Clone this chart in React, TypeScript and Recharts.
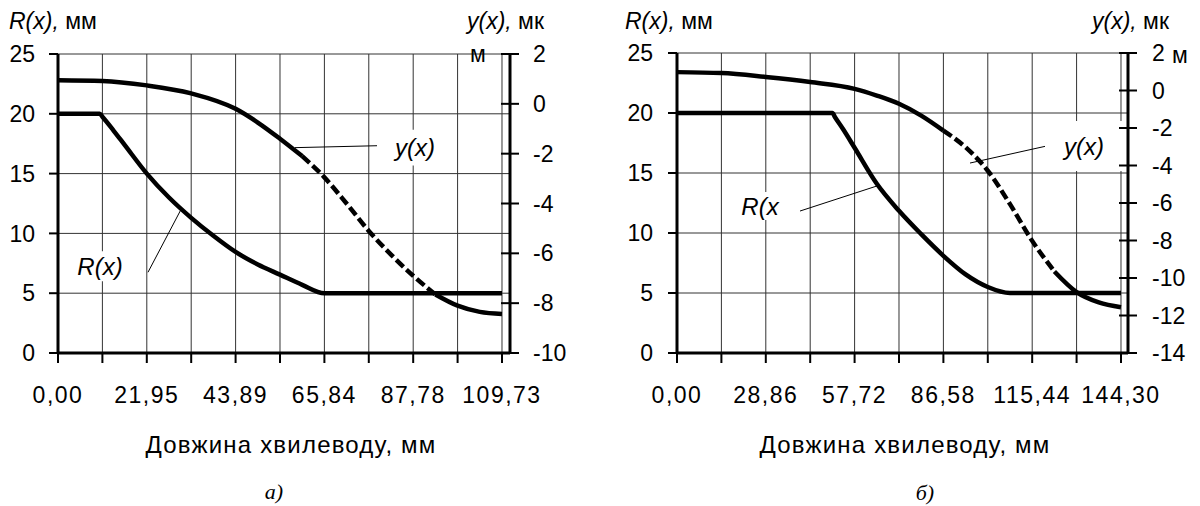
import React from 'react';
import {
  LineChart,
  Line,
  XAxis,
  YAxis,
  CartesianGrid,
  ReferenceArea,
  ReferenceLine,
} from 'recharts';

const FONT = "'Liberation Sans', Arial, sans-serif";

// --- panel а) ---
const aXTicks = [0, 10.973, 21.946, 32.919, 43.892, 54.865, 65.838, 76.811, 87.784, 98.757, 109.73];
const aXLabels = ['0,00', '', '21,95', '', '43,89', '', '65,84', '', '87,78', '', '109,73'];
const aRx = [0, 10.31, 10.97, 13.72, 16.46, 21.95, 27.43, 32.92, 38.4, 43.89, 49.38, 54.86, 60.35, 65.84, 76.81, 87.78, 98.76, 109.73];
const aR = [20, 20, 19.75, 18.6, 17.4, 15.0, 13.0, 11.3, 9.8, 8.45, 7.4, 6.55, 5.7, 5.0, 5, 5, 5, 5];
const aYx = [0, 10.97, 21.95, 32.92, 43.89, 49.38, 54.86, 60.35, 65.84, 71.32, 76.81, 82.3, 87.78, 93.27, 98.76, 104.24, 109.73];
const aY = [0.95, 0.92, 0.74, 0.42, -0.2, -0.75, -1.4, -2.1, -2.95, -4.0, -5.1, -6.05, -6.9, -7.65, -8.1, -8.35, -8.43];
const aDash = [60.35, 93.27];
const aYTicks = [-10, -8, -6, -4, -2, 0, 2];

// --- panel б) ---
const bXTicks = [0, 14.43, 28.86, 43.29, 57.72, 72.15, 86.58, 101.01, 115.44, 129.87, 144.3];
const bXLabels = ['0,00', '', '28,86', '', '57,72', '', '86,58', '', '115,44', '', '144,30'];
const bRx = [0, 50.51, 51.37, 54.11, 57.72, 64.94, 72.15, 79.37, 86.58, 93.8, 101.01, 108.23, 115.44, 129.87, 144.3];
const bR = [20, 20, 19.65, 18.6, 17.1, 14.1, 11.85, 9.9, 8.1, 6.55, 5.5, 5.0, 5, 5, 5];
const bYx = [0, 14.43, 28.86, 43.29, 57.72, 64.94, 72.15, 79.37, 86.58, 93.8, 101.01, 108.23, 115.44, 122.66, 129.87, 137.09, 144.3];
const bY = [0.98, 0.93, 0.72, 0.45, 0.09, -0.27, -0.71, -1.34, -2.14, -3.03, -4.28, -6.06, -8.02, -9.65, -10.75, -11.3, -11.56];
const bDash = [86.58, 122.66];
const bYTicks = [-14, -12, -10, -8, -6, -4, -2, 0, 2];

const rTicks = [0, 5, 10, 15, 20, 25];

const pts = (xs: number[], vs: number[]) => xs.map((x, i) => ({ x, v: vs[i] }));
const solidPart = (xs: number[], vs: number[], d: number[]) =>
  xs.map((x, i) => ({ x, v: x <= d[0] || x >= d[1] ? vs[i] : null }));
const dashPart = (xs: number[], vs: number[], d: number[]) =>
  pts(xs, vs).filter((p) => p.x >= d[0] && p.x <= d[1]);

function RightTick({ x, y, payload, gap }: any) {
  const ax = x - gap;
  return (
    <g>
      <line x1={ax - 9} x2={ax + 9} y1={y} y2={y} stroke="#000" strokeWidth={2} />
      <text x={x} y={y} dy="0.355em" textAnchor="start" fontSize={23} fontFamily={FONT} fill="#000">
        {payload.value}
      </text>
    </g>
  );
}

const labelStyle = (value: string) => ({
  value,
  position: 'center' as const,
  fill: '#000',
  fontSize: 24,
  fontStyle: 'italic',
  fontFamily: FONT,
});

function Panel({ cfg }: { cfg: any }) {
  const tickFont = { fontSize: 23, fill: '#000', fontFamily: FONT };
  return (
    <LineChart width={600} height={506} margin={{ top: cfg.top, right: 0, bottom: 0, left: 0 }}>
      <CartesianGrid yAxisId="r" stroke="#333" strokeWidth={1} />
      <XAxis
        dataKey="x"
        type="number"
        domain={[0, cfg.xMax]}
        ticks={cfg.xTicks}
        interval={0}
        height={153}
        tickFormatter={(_v: number, i: number) => cfg.xLabels[i]}
        tick={{ ...tickFont, letterSpacing: 1.5 }}
        tickSize={10}
        tickMargin={24}
        axisLine={{ stroke: '#000', strokeWidth: 3 }}
        tickLine={{ stroke: '#000', strokeWidth: 2 }}
      />
      <YAxis
        yAxisId="r"
        domain={[0, 25]}
        ticks={rTicks}
        interval={0}
        width={cfg.leftW}
        tick={tickFont}
        tickSize={9}
        tickMargin={cfg.leftGap}
        axisLine={{ stroke: '#000', strokeWidth: 3 }}
        tickLine={{ stroke: '#000', strokeWidth: 2 }}
      />
      <YAxis
        yAxisId="y"
        orientation="right"
        domain={cfg.yDomain}
        ticks={cfg.yTicks}
        interval={0}
        width={cfg.rightW}
        tickSize={9}
        tickMargin={cfg.rightGap - 9}
        tickLine={false}
        axisLine={{ stroke: '#000', strokeWidth: 3 }}
        tick={(p: any) => <RightTick {...p} gap={cfg.rightGap} />}
      />
      {cfg.boxes.map((b: any, i: number) => (
        <ReferenceArea
          key={'b' + i}
          yAxisId="r"
          x1={b.x1}
          x2={b.x2}
          y1={b.r1}
          y2={b.r2}
          fill="#fff"
          fillOpacity={1}
          stroke="none"
          label={labelStyle(b.text)}
        />
      ))}
      {cfg.leaders.map((l: any, i: number) => (
        <ReferenceLine
          key={'l' + i}
          yAxisId="r"
          segment={[{ x: l.x1, y: l.r1 }, { x: l.x2, y: l.r2 }]}
          stroke="#000"
          strokeWidth={1}
        />
      ))}
      <Line
        yAxisId="r"
        data={pts(cfg.rx, cfg.r)}
        dataKey="v"
        type="monotone"
        stroke="#000"
        strokeWidth={4.5}
        dot={false}
        activeDot={false}
        isAnimationActive={false}
      />
      <Line
        yAxisId="y"
        data={solidPart(cfg.yx, cfg.y, cfg.dash)}
        dataKey="v"
        type="monotone"
        stroke="#000"
        strokeWidth={4.5}
        dot={false}
        activeDot={false}
        isAnimationActive={false}
      />
      <Line
        yAxisId="y"
        data={dashPart(cfg.yx, cfg.y, cfg.dash)}
        dataKey="v"
        type="monotone"
        stroke="#000"
        strokeWidth={4.5}
        strokeDasharray="10 4"
        dot={false}
        activeDot={false}
        isAnimationActive={false}
      />
    </LineChart>
  );
}

const panelA = {
  top: 54,
  leftW: 58,
  rightW: 90,
  leftGap: 14,
  rightGap: 23,
  xMax: 111.71,
  xTicks: aXTicks,
  xLabels: aXLabels,
  yDomain: [-10, 2],
  yTicks: aYTicks,
  rx: aRx,
  r: aR,
  yx: aYx,
  y: aY,
  dash: aDash,
  boxes: [
    { x1: 81.31, x2: 95.15, r1: 15.67, r2: 18.67, text: 'y(x)' },
    { x1: 2.97, x2: 17.79, r1: 6.0, r2: 8.5, text: 'R(x)' },
  ],
  leaders: [
    { x1: 58.57, r1: 17.17, x2: 78.84, r2: 17.33 },
    { x1: 22.24, r1: 6.75, x2: 30.4, r2: 12.0 },
  ],
};

const panelB = {
  top: 53,
  leftW: 77,
  rightW: 72,
  leftGap: 15,
  rightGap: 24,
  xMax: 146.58,
  xTicks: bXTicks,
  xLabels: bXLabels,
  yDomain: [-14, 2],
  yTicks: bYTicks,
  rx: bRx,
  r: bR,
  yx: bYx,
  y: bY,
  dash: bDash,
  boxes: [
    { x1: 119.28, x2: 145.28, r1: 15.17, r2: 19.33, text: 'y(x)' },
    { x1: 18.85, x2: 35.1, r1: 11.08, r2: 13.42, text: 'R(x' },
  ],
  leaders: [
    { x1: 95.23, r1: 15.83, x2: 119.6, r2: 17.22 },
    { x1: 39.98, r1: 11.83, x2: 65.0, r2: 13.92 },
  ],
};

export default function App() {
  const t = { fontFamily: FONT, fontSize: 23, fill: '#000' };
  const title = { fontFamily: FONT, fontSize: 24, fill: '#000', letterSpacing: 1.2 };
  const cap = { fontFamily: "'Liberation Serif', 'Times New Roman', serif", fontStyle: 'italic', fontSize: 22, fill: '#000' };
  return (
    <div style={{ position: 'absolute', left: 0, top: 0, width: 1200, height: 506, background: '#fff', overflow: 'hidden' }}>
      <div style={{ position: 'absolute', left: 0, top: 0 }}>
        <Panel cfg={panelA} />
      </div>
      <div style={{ position: 'absolute', left: 600, top: 0 }}>
        <Panel cfg={panelB} />
      </div>
      <svg width={1200} height={506} style={{ position: 'absolute', left: 0, top: 0, pointerEvents: 'none' }}>
        <text x={9} y={29} {...t}>
          <tspan fontStyle="italic">R(x),</tspan> мм
        </text>
        <text x={467} y={29} {...t}>
          <tspan fontStyle="italic">y(x),</tspan> мк
        </text>
        <text x={470} y={62} {...t}>м</text>
        <text x={291} y={453} textAnchor="middle" {...title}>Довжина хвилеводу, мм</text>
        <text x={274} y={499} textAnchor="middle" {...cap}>а)</text>

        <text x={625} y={29} {...t}>
          <tspan fontStyle="italic">R(x),</tspan> мм
        </text>
        <text x={1092} y={29} {...t}>
          <tspan fontStyle="italic">y(x),</tspan> мк
        </text>
        <text x={1172} y={63} {...t}>м</text>
        <text x={905} y={453} textAnchor="middle" {...title}>Довжина хвилеводу, мм</text>
        <text x={925} y={500} textAnchor="middle" {...cap}>б)</text>
      </svg>
    </div>
  );
}
